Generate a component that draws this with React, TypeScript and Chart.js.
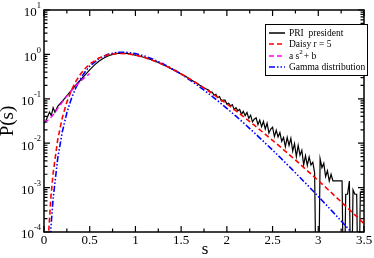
import React, { useEffect, useRef } from "react";
import { Chart, registerables } from "chart.js";

Chart.register(...registerables);

// ---- data ----
const sModel = [0.04, 0.05, 0.075, 0.1, 0.15, 0.2, 0.25, 0.3, 0.35, 0.4, 0.45, 0.5, 0.6, 0.7, 0.8, 0.9, 1.0, 1.1, 1.2, 1.3, 1.4, 1.5, 1.6, 1.7, 1.8, 1.9, 2.0, 2.1, 2.2, 2.3, 2.4, 2.5, 2.6, 2.7, 2.8, 2.9, 3.0, 3.1, 3.2, 3.3, 3.4, 3.5];
const pDaisy = [3.1e-5, 9.0e-5, 5.9e-4, 2.13e-3, 0.012, 0.0375, 0.0847, 0.156, 0.25, 0.361, 0.482, 0.605, 0.826, 0.98, 1.048, 1.037, 0.964, 0.852, 0.722, 0.591, 0.47, 0.364, 0.276, 0.205, 0.15, 0.108, 0.0764, 0.0535, 0.0371, 0.0254, 0.0172, 0.0116, 0.00775, 0.00514, 0.00338, 0.00221, 0.00144, 0.00093, 0.000598, 0.000383, 0.000244, 0.000155];
const pGamma = [3.5e-6, 1.26e-5, 1.2e-4, 5.68e-4, 4.56e-3, 0.01805, 0.0485, 0.102, 0.181, 0.285, 0.407, 0.54, 0.8, 1.002, 1.109, 1.116, 1.043, 0.917, 0.768, 0.616, 0.478, 0.359, 0.262, 0.187, 0.131, 0.0901, 0.0608, 0.0405, 0.0266, 0.0172, 0.011, 0.00701, 0.0044, 0.00274, 0.00169, 0.00104, 6.32e-4, 3.82e-4, 2.3e-4, 1.37e-4, 8.1e-5, 4.8e-5];

const sQuad = [0, 0.05, 0.1, 0.15, 0.2, 0.25, 0.3, 0.35, 0.4, 0.45, 0.5];
const pQuad = [0.03, 0.0334, 0.0436, 0.0606, 0.0844, 0.115, 0.152, 0.197, 0.248, 0.305, 0.37];

const sPRI = [0, 0.02, 0.04, 0.06, 0.08, 0.1, 0.12, 0.15, 0.2, 0.25, 0.3, 0.35, 0.4, 0.45, 0.5, 0.55, 0.6, 0.65, 0.7, 0.75, 0.8, 0.85, 0.9, 0.95, 1.0, 1.05, 1.1, 1.15, 1.2, 1.25, 1.3, 1.35, 1.4, 1.45, 1.5, 1.55, 1.6, 1.65, 1.7, 1.75,
  1.8, 1.82, 1.84, 1.86, 1.88, 1.9, 1.92, 1.94, 1.96, 1.98, 2.0, 2.02, 2.04, 2.06, 2.08, 2.1, 2.12, 2.14, 2.16, 2.18, 2.2, 2.22, 2.24, 2.26, 2.28, 2.3, 2.32, 2.34, 2.36, 2.38, 2.4, 2.42, 2.44, 2.46, 2.48, 2.5, 2.52, 2.54, 2.56, 2.58, 2.6, 2.62, 2.64, 2.66, 2.68, 2.7, 2.72, 2.74, 2.76, 2.78, 2.8, 2.82, 2.84, 2.86, 2.88, 2.9, 2.92, 2.94, 2.96, 2.98, 3.0, 3.02, 3.04, 3.06, 3.08, 3.1, 3.12, 3.14, 3.16, 3.18, 3.2, 3.22, 3.24, 3.26, 3.28, 3.3, 3.32, 3.34, 3.36, 3.38, 3.4, 3.42, 3.44, 3.46, 3.48, 3.5];
const pPRI = [0.027, 0.032, 0.04, 0.05, 0.042, 0.063, 0.05, 0.068, 0.088, 0.118, 0.155, 0.205, 0.265, 0.345, 0.45, 0.575, 0.7, 0.82, 0.92, 1.0, 1.05, 1.06, 1.05, 1.01, 0.96, 0.91, 0.85, 0.79, 0.72, 0.66, 0.585, 0.53, 0.465, 0.42, 0.36, 0.32, 0.27, 0.24, 0.205, 0.175,
  0.158, 0.141, 0.141, 0.12, 0.126, 0.107, 0.112, 0.0891, 0.0933, 0.0933, 0.0759, 0.0794, 0.0692, 0.0741, 0.0575, 0.0631, 0.0537, 0.0575, 0.0447, 0.0525, 0.0417, 0.049, 0.0363, 0.0427, 0.0302, 0.0347, 0.0372, 0.0263, 0.0331, 0.0234, 0.0309, 0.0209, 0.0282, 0.017, 0.0209, 0.0229, 0.0141, 0.0195, 0.0138, 0.0174, 0.011, 0.0135, 0.00832, 0.0135, 0.00891, 0.0129, 0.00661, 0.00977, 0.00501, 0.00891, 0.00537, 0.00692, 0.00324, 0.00525, 0.00316, 0.0049, 0.00324, 0.00372, 0.00214, 1e-6, 1e-6, 0.00447, 0.00282, 0.00355, 0.00178, 0.0024, 0.00141, 0.002, 0.00141, 0.00141, 0.00141, 0.00141, 0.00141, 0.00141, 1e-6, 0.000708, 0.000708, 0.00141, 1e-6, 0.000891, 0.000708, 0.000708, 1e-6, 0.000794, 0.000794, 0.000794];

const xMajorTicks = [0, 0.5, 1, 1.5, 2, 2.5, 3, 3.5];
const xTickLabels = ["0", "0.5", "1", "1.5", "2", "2.5", "3", "3.5"];
const yDecadeExps = [-4, -3, -2, -1, 0, 1];
const legendLabels = ["PRI  president", "Daisy r = 5", "a s", "Gamma distribution"];

const SERIF = "'Liberation Serif', 'Times New Roman', serif";

function pts(xs: number[], ys: number[]) {
  return xs.map((x, i) => ({ x, y: ys[i] }));
}

const decorPlugin = {
  id: "decor",
  afterDatasetsDraw(chart: any) {
    const { ctx, chartArea: a, scales } = chart;
    const xs = scales.x;
    const ys = scales.y;
    ctx.save();
    // frame
    ctx.strokeStyle = "#000";
    ctx.lineWidth = 1.5;
    ctx.strokeRect(a.left, a.top, a.right - a.left, a.bottom - a.top);
    ctx.lineWidth = 1.2;
    // x ticks
    ctx.beginPath();
    for (let v = 0; v <= 3.5001; v += 0.25) {
      const px = xs.getPixelForValue(v);
      const major = Math.abs(v * 2 - Math.round(v * 2)) < 1e-6;
      const len = major ? 6 : 3.5;
      ctx.moveTo(px, a.bottom);
      ctx.lineTo(px, a.bottom - len);
      ctx.moveTo(px, a.top);
      ctx.lineTo(px, a.top + len);
    }
    // y ticks
    for (const e of yDecadeExps) {
      for (let m = 1; m <= 9; m++) {
        if (e === 1 && m > 1) break;
        const val = m * Math.pow(10, e);
        const py = ys.getPixelForValue(val);
        const len = m === 1 ? 6 : 3.5;
        ctx.moveTo(a.left, py);
        ctx.lineTo(a.left + len, py);
        ctx.moveTo(a.right, py);
        ctx.lineTo(a.right - len, py);
      }
    }
    ctx.stroke();
    // x tick labels
    ctx.fillStyle = "#000";
    ctx.font = `13px ${SERIF}`;
    ctx.textAlign = "center";
    ctx.textBaseline = "middle";
    xMajorTicks.forEach((v, i) => {
      ctx.fillText(xTickLabels[i], xs.getPixelForValue(v), a.bottom + 9);
    });
    // y tick labels 10^e
    for (const e of yDecadeExps) {
      const py = ys.getPixelForValue(Math.pow(10, e));
      const expStr = e < 0 ? "-" + Math.abs(e) : String(e);
      ctx.font = `8.5px ${SERIF}`;
      const ew = ctx.measureText(expStr).width;
      ctx.textAlign = "right";
      ctx.fillText(expStr, a.left - 3, py - 4);
      ctx.font = `13px ${SERIF}`;
      ctx.fillText("10", a.left - 3 - ew, py + 3);
    }
    // axis titles
    ctx.textAlign = "center";
    ctx.font = `17px ${SERIF}`;
    ctx.fillText("s", (a.left + a.right) / 2 + 1, 250);
    ctx.save();
    ctx.translate(8, 121);
    ctx.rotate(-Math.PI / 2);
    ctx.font = `19px ${SERIF}`;
    ctx.fillText("P(s)", 0, 0);
    ctx.restore();

    // legend
    const bx = 265, by = 24, bw = 102, bh = 51;
    ctx.fillStyle = "#fff";
    ctx.fillRect(bx, by, bw, bh);
    ctx.strokeStyle = "#000";
    ctx.lineWidth = 1;
    ctx.strokeRect(bx + 0.5, by + 0.5, bw, bh);
    const order = [0, 1, 2, 3];
    const rowY = [33, 44, 56, 67];
    const tx = 289;
    order.forEach((di, r) => {
      const ds = chart.data.datasets[di];
      const y = rowY[r];
      ctx.save();
      ctx.strokeStyle = ds.borderColor;
      ctx.lineWidth = Math.max(ds.borderWidth, 1.5);
      ctx.setLineDash(ds.borderDash || []);
      ctx.beginPath();
      ctx.moveTo(269, y);
      ctx.lineTo(285, y);
      ctx.stroke();
      ctx.restore();
      ctx.fillStyle = "#000";
      ctx.textAlign = "left";
      ctx.textBaseline = "middle";
      ctx.font = `9.5px ${SERIF}`;
      ctx.fillText(legendLabels[r], tx, y);
      if (r === 2) {
        const w = ctx.measureText(legendLabels[r]).width;
        ctx.font = `7px ${SERIF}`;
        ctx.fillText("2", tx + w, y - 4);
        const w2 = ctx.measureText("2").width;
        ctx.font = `9.5px ${SERIF}`;
        ctx.fillText("+ b", tx + w + w2 + 1, y);
      }
    });
    ctx.restore();
  },
};

export default function App() {
  const ref = useRef<HTMLCanvasElement | null>(null);
  useEffect(() => {
    document.body.style.margin = "0";
    const canvas = ref.current!;
    const chart = new Chart(canvas, {
      type: "line",
      data: {
        datasets: [
          {
            label: "PRI president",
            data: pts(sPRI, pPRI),
            borderColor: "#000000",
            borderWidth: 1.2,
            pointRadius: 0,
            tension: 0,
            order: 10,
          },
          {
            label: "Daisy r = 5",
            data: pts(sModel, pDaisy),
            borderColor: "#ff0000",
            borderWidth: 1.6,
            borderDash: [5, 3],
            pointRadius: 0,
            tension: 0,
            order: 1,
          },
          {
            label: "a s^2 + b",
            data: pts(sQuad, pQuad),
            borderColor: "#ff00ff",
            borderWidth: 1.4,
            borderDash: [5, 3],
            pointRadius: 0,
            tension: 0,
            order: 2,
          },
          {
            label: "Gamma distribution",
            data: pts(sModel, pGamma),
            borderColor: "#0000ff",
            borderWidth: 1.6,
            borderDash: [6, 2, 1.5, 2, 1.5, 2],
            pointRadius: 0,
            tension: 0,
            order: 3,
          },
        ],
      },
      options: {
        animation: false,
        responsive: false,
        maintainAspectRatio: false,
        devicePixelRatio: 1,
        layout: { padding: { left: 44, right: 10, top: 10, bottom: 26 } },
        plugins: { legend: { display: false }, tooltip: { enabled: false } },
        events: [],
        scales: {
          x: { type: "linear", min: 0, max: 3.5, display: false },
          y: { type: "logarithmic", min: 1e-4, max: 10, display: false },
        },
      },
      plugins: [decorPlugin],
    });
    return () => chart.destroy();
  }, []);
  return (
    <div style={{ width: 374, height: 258, background: "#fff" }}>
      <canvas ref={ref} width={374} height={258} style={{ display: "block" }} />
    </div>
  );
}
